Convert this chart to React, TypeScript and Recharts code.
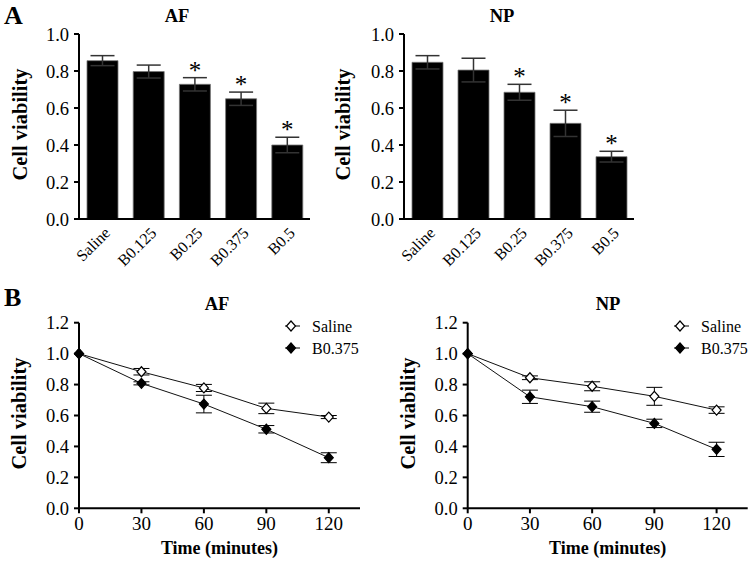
import React from "react";
import { BarChart, Bar, XAxis, YAxis, ErrorBar, LabelList, LineChart, Line, Legend } from "recharts";

const SERIF = "'Liberation Serif', 'Times New Roman', serif";

// Panel A: viability after 24h treatment
const doses = ["Saline", "B0.125", "B0.25", "B0.375", "B0.5"];
const afViability = [0.856, 0.797, 0.728, 0.65, 0.4];
const afSem = [0.027, 0.035, 0.036, 0.036, 0.042];
const afSignificant = [false, false, true, true, true];
const npViability = [0.847, 0.805, 0.685, 0.517, 0.337];
const npSem = [0.036, 0.064, 0.043, 0.071, 0.029];
const npSignificant = [false, false, true, true, true];
const barTicks = [0, 0.2, 0.4, 0.6, 0.8, 1.0];

// Panel B: time course
const minutes = [0, 30, 60, 90, 120];
const afSaline = [1.0, 0.883, 0.778, 0.646, 0.59];
const afSalineSem = [0, 0.021, 0.023, 0.034, 0.01];
const afB0375 = [1.0, 0.808, 0.674, 0.511, 0.327];
const afB0375Sem = [0, 0.01, 0.057, 0.024, 0.032];
const npSaline = [1.0, 0.844, 0.789, 0.724, 0.635];
const npSalineSem = [0, 0.012, 0.029, 0.058, 0.021];
const npB0375 = [1.0, 0.721, 0.657, 0.549, 0.381];
const npB0375Sem = [0, 0.043, 0.036, 0.027, 0.046];
const lineTicks = [0, 0.2, 0.4, 0.6, 0.8, 1.0, 1.2];

const SERIES = [
  { key: "saline", name: "Saline", filled: false },
  { key: "b0375", name: "B0.375", filled: true },
];

type BarRow = { name: string; value: number; err: number; sig: boolean };

function barRows(values: number[], sem: number[], sig: boolean[]): BarRow[] {
  return doses.map((name, i) => ({ name, value: values[i], err: sem[i], sig: sig[i] }));
}

function lineRows(saline: number[], salineSem: number[], b: number[], bSem: number[]) {
  return minutes.map((t, i) => ({
    t,
    saline: saline[i],
    salineErr: salineSem[i],
    b0375: b[i],
    b0375Err: bSem[i],
  }));
}

const RotatedTick = (props: any) => {
  const { x, y, payload } = props;
  const ax = x + 9;
  const ay = y + 13;
  return (
    <text x={ax} y={ay} textAnchor="end" transform={`rotate(-45 ${ax} ${ay})`} fontSize={16} fontFamily={SERIF} fill="#000">
      {payload.value}
    </text>
  );
};

const yLabel = (offset: number) => (props: any) => {
  const vb = props.viewBox;
  const cx = vb.x + vb.width - offset;
  const cy = vb.y + vb.height / 2 - 2;
  return (
    <text x={cx} y={cy} transform={`rotate(-90 ${cx} ${cy})`} textAnchor="middle" dominantBaseline="central"
      fontSize={20.5} fontWeight="bold" fontFamily={SERIF} fill="#000">
      Cell viability
    </text>
  );
};

const timeLabel = (props: any) => {
  const vb = props.viewBox;
  return (
    <text x={vb.x + vb.width / 2} y={vb.y + 46} textAnchor="middle" fontSize={18} fontWeight="bold" fontFamily={SERIF} fill="#000">
      Time (minutes)
    </text>
  );
};

const starLabel = (rows: BarRow[]) => (props: any) => {
  const vb = props.viewBox ?? props;
  const row = rows[props.index] ?? rows.find((r) => r.value === props.value);
  if (!row || !row.sig) return null;
  const h = Math.abs(vb.height);
  const top = Math.min(vb.y, vb.y + vb.height);
  const errTop = top - (row.err * h) / row.value;
  return (
    <text key={`star-${props.index}`} x={vb.x + vb.width / 2} y={errTop + 1} textAnchor="middle" fontSize={25} fontFamily={SERIF} fill="#000">
      *
    </text>
  );
};

const diamond = (filled: boolean) => (props: any) => {
  const { cx, cy, index } = props;
  const r = 5;
  return (
    <path key={`d-${index}`} d={`M${cx},${cy - r}L${cx + r * 0.9},${cy}L${cx},${cy + r}L${cx - r * 0.9},${cy}Z`}
      fill={filled ? "#000" : "#fff"} stroke="#000" strokeWidth={1.2} />
  );
};

const legendContent = () => (
  <svg width={75} height={44} style={{ overflow: "visible" }}>
    {SERIES.map((s, i) => {
      const cy = 10 + i * 22;
      return (
        <g key={s.key}>
          <line x1={2} x2={17} y1={cy} y2={cy} stroke="#000" strokeWidth={1} />
          <path d={`M8,${cy - 5}L12.5,${cy}L8,${cy + 5}L3.5,${cy}Z`} fill={s.filled ? "#000" : "#fff"} stroke="#000" strokeWidth={1.2} />
          <text x={29} y={cy + 5.5} fontSize={16} fontFamily={SERIF} fill="#000">{s.name}</text>
        </g>
      );
    })}
  </svg>
);

function ViabilityBars({ rows, width, axisWidth, right, labelOffset }: { rows: BarRow[]; width: number; axisWidth: number; right: number; labelOffset: number }) {
  return (
    <BarChart width={width} height={280} data={rows} margin={{ top: 34, right, left: 0, bottom: 0 }} barSize={31}>
      <XAxis dataKey="name" height={61} tick={<RotatedTick />} tickLine={false} tickSize={0} interval={0}
        axisLine={{ stroke: "#000", strokeWidth: 2 }} />
      <YAxis width={axisWidth} domain={[0, 1]} ticks={barTicks} tickFormatter={(v: number) => v.toFixed(1)}
        tickSize={5} tickMargin={5} axisLine={{ stroke: "#000", strokeWidth: 2 }} tickLine={{ stroke: "#000", strokeWidth: 2 }}
        tick={{ fill: "#000", fontSize: 18.5, fontFamily: SERIF }} label={{ content: yLabel(labelOffset) }} />
      <Bar dataKey="value" fill="#000" stroke="#777" strokeWidth={0.8} isAnimationActive={false}>
        <ErrorBar dataKey="err" width={12} stroke="#333" strokeWidth={1.5} />
        <LabelList dataKey="value" content={starLabel(rows)} />
      </Bar>
    </BarChart>
  );
}

function TimeCourse({ rows, axisWidth, right, legendLeft }: { rows: any[]; axisWidth: number; right: number; legendLeft: number }) {
  return (
    <LineChart width={375} height={281} data={rows} margin={{ top: 42.7, right, left: 0, bottom: 0 }}>
      <XAxis dataKey="t" type="number" domain={[0, 135]} ticks={minutes} height={52.7} tickSize={5} tickMargin={3}
        axisLine={{ stroke: "#000", strokeWidth: 2 }} tickLine={{ stroke: "#000", strokeWidth: 2 }}
        tick={{ fill: "#000", fontSize: 19, fontFamily: SERIF }} label={{ content: timeLabel }} />
      <YAxis width={axisWidth} domain={[0, 1.2]} ticks={lineTicks} tickFormatter={(v: number) => v.toFixed(1)}
        tickSize={5} tickMargin={5} axisLine={{ stroke: "#000", strokeWidth: 2 }} tickLine={{ stroke: "#000", strokeWidth: 2 }}
        tick={{ fill: "#000", fontSize: 18.5, fontFamily: SERIF }} label={{ content: yLabel(60) }} />
      <Legend layout="horizontal" verticalAlign="middle" align="center" content={legendContent}
        wrapperStyle={{ left: legendLeft, top: 36, width: 75, height: 44 }} />
      {SERIES.map((s) => (
        <Line key={s.key} dataKey={s.key} name={s.name} stroke="#111" strokeWidth={1} dot={diamond(s.filled)}
          activeDot={false} isAnimationActive={false}>
          <ErrorBar dataKey={`${s.key}Err`} width={8} stroke="#000" strokeWidth={1} direction="y" />
        </Line>
      ))}
    </LineChart>
  );
}

const afBars = barRows(afViability, afSem, afSignificant);
const npBars = barRows(npViability, npSem, npSignificant);
const afLines = lineRows(afSaline, afSalineSem, afB0375, afB0375Sem);
const npLines = lineRows(npSaline, npSalineSem, npB0375, npB0375Sem);

export default function App() {
  const box = (left: number, top: number): React.CSSProperties => ({ position: "absolute", left, top });
  return (
    <div style={{ position: "absolute", left: 0, top: 0, width: 750, height: 561, background: "#fff", fontFamily: SERIF, overflow: "hidden" }}>
      <div style={box(0, 0)}>
        <ViabilityBars rows={afBars} width={320} axisWidth={79} right={10} labelOffset={59} />
      </div>
      <div style={box(320, 0)}>
        <ViabilityBars rows={npBars} width={430} axisWidth={84} right={116} labelOffset={61} />
      </div>
      <div style={box(0, 280)}>
        <TimeCourse rows={afLines} axisWidth={79} right={15} legendLeft={283} />
      </div>
      <div style={box(375, 280)}>
        <TimeCourse rows={npLines} axisWidth={92.7} right={2.3} legendLeft={297} />
      </div>
      <svg width={750} height={561} style={{ position: "absolute", left: 0, top: 0, pointerEvents: "none" }}>
        <g fontFamily={SERIF} fontWeight="bold" fill="#000">
          <text x={4} y={24} fontSize={26}>A</text>
          <text x={4} y={306} fontSize={26}>B</text>
          <text x={177} y={22} fontSize={18.5} textAnchor="middle">AF</text>
          <text x={502} y={22} fontSize={18.5} textAnchor="middle">NP</text>
          <text x={217} y={310} fontSize={18.5} textAnchor="middle">AF</text>
          <text x={608} y={310} fontSize={18.5} textAnchor="middle">NP</text>
        </g>
      </svg>
    </div>
  );
}
